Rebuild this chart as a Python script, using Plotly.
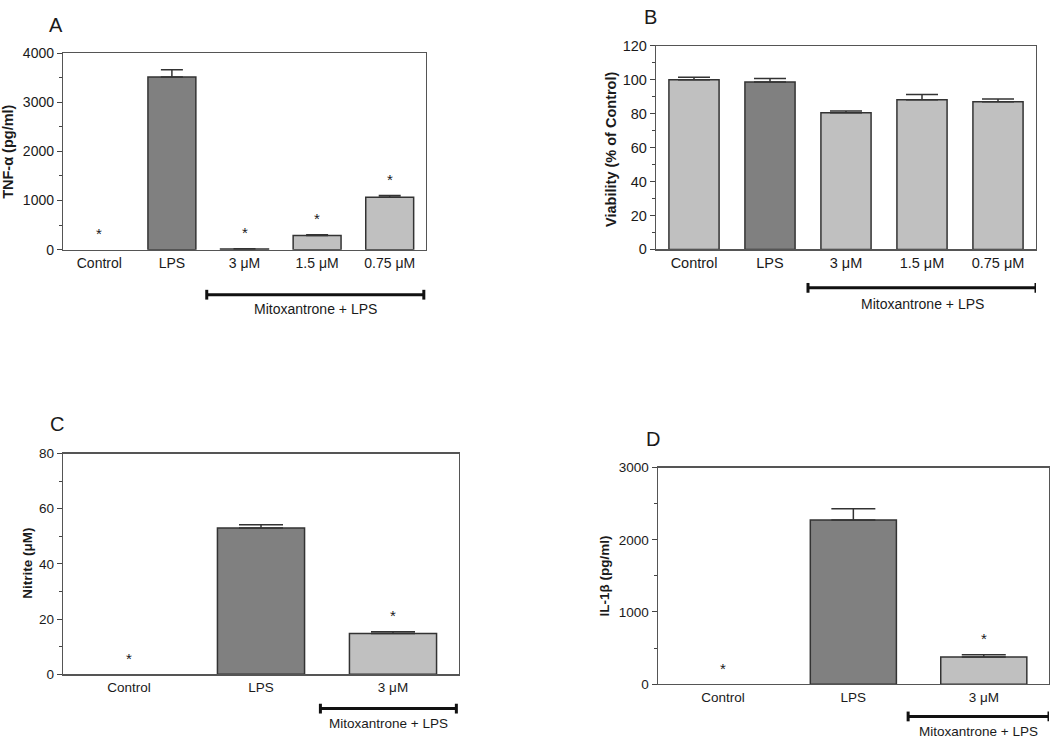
import plotly.graph_objects as go

# ---------------- data ----------------
cats_ab = ["Control", "LPS", "3 \u03bcM", "1.5 \u03bcM", "0.75 \u03bcM"]
tnf_vals = [None, 3510, 15, 290, 1068]
tnf_err = [0, 150, 5, 15, 35]
tnf_sig = [True, False, True, True, True]

viab_vals = [100, 98.7, 80.6, 88.3, 87.0]
viab_err = [1.5, 2.0, 1.0, 3.1, 1.7]
viab_sig = [False, False, False, False, False]

cats_cd = ["Control", "LPS", "3 \u03bcM"]
nit_vals = [None, 53.0, 14.8]
nit_err = [0, 1.2, 0.6]
nit_sig = [True, False, True]

il_vals = [None, 2273, 375]
il_err = [0, 158, 32]
il_sig = [True, False, True]

FONT = "Arial, Liberation Sans, sans-serif"
DARK = "#808080"
LIGHT = "#c0c0c0"
W, H = 1050, 745


def px_x(p):
    return p / W


def px_y(p):
    return 1 - p / H


panels = [
    dict(key="", cats=cats_ab, vals=tnf_vals, err=tnf_err, sig=tnf_sig,
         dom_x=(63, 426), dom_y=(46, 247), yr=(0, 4000), dt=1000, mdt=500,
         title="TNF-\u03b1 (pg/ml)", tpos=(8, 147), tfs=14.5, fs=14,
         letter="A", lpos=(56, 17), cap=11, brk=(1.48, 4.47), brk_y=293,
         btxt=308, sig_shift=20),
    dict(key="2", cats=cats_ab, vals=viab_vals, err=viab_err, sig=viab_sig,
         dom_x=(656, 1036), dom_y=(38.7, 246.7), yr=(0, 120), dt=20, mdt=10,
         title="Viability (% of Control)", tpos=(611, 145), tfs=14.5, fs=14.5,
         letter="B", lpos=(650, 9), cap=16, brk=(1.5, 4.5), brk_y=286,
         btxt=303, sig_shift=20),
    dict(key="3", cats=cats_cd, vals=nit_vals, err=nit_err, sig=nit_sig,
         dom_x=(63, 459), dom_y=(455.3, 681), yr=(0, 80), dt=20, mdt=10,
         title="Nitrite (\u03bcM)", tpos=(28, 568), tfs=13.5, fs=13.5,
         letter="C", lpos=(57, 425), cap=22, brk=(1.45, 2.48), brk_y=716,
         btxt=731, sig_shift=20),
    dict(key="4", cats=cats_cd, vals=il_vals, err=il_err, sig=il_sig,
         dom_x=(657.7, 1049), dom_y=(469.7, 691), yr=(0, 3000), dt=1000, mdt=500,
         title="IL-1\u03b2 (pg/ml)", tpos=(605, 581), tfs=13.5, fs=13.5,
         letter="D", lpos=(653, 440), cap=22, brk=(1.42, 2.5), brk_y=724,
         btxt=739, sig_shift=20),
]

fig = go.Figure()
annotations = []
shapes = []

for p in panels:
    k = p["key"]
    n = len(p["cats"])
    xs = list(range(n))
    colors = [DARK if c == "LPS" else LIGHT for c in p["cats"]]
    fig.add_trace(go.Bar(
        x=xs, y=p["vals"], width=0.66,
        marker=dict(color=colors, line=dict(color="#333333", width=1.5)),
        error_y=dict(type="data", array=p["err"], arrayminus=[0] * n,
                     symmetric=False, color="#333333", thickness=1.5,
                     width=p["cap"]),
        xaxis="x" + k, yaxis="y" + k, showlegend=False, hoverinfo="skip",
    ))
    ax = dict(
        domain=[px_x(p["dom_x"][0]), px_x(p["dom_x"][1])],
        range=[-0.5, n - 0.5], anchor="y" + k,
        tickmode="array", tickvals=xs, ticktext=p["cats"],
        showline=True, mirror=True, linecolor="#555555", linewidth=1.2,
        ticks="", showgrid=False, zeroline=False,
        tickfont=dict(family=FONT, size=p["fs"], color="#1a1a1a"),
        fixedrange=True,
    )
    ay = dict(
        domain=[px_y(p["dom_y"][1]), px_y(p["dom_y"][0])],
        range=list(p["yr"]), anchor="x" + k, dtick=p["dt"],
        showline=True, mirror=True, linecolor="#555555", linewidth=1.2,
        ticks="outside", ticklen=5, tickcolor="#444444", tickwidth=1,
        minor=dict(ticks="outside", ticklen=3, dtick=p["mdt"], tickcolor="#444444"),
        showgrid=False, zeroline=False,
        tickfont=dict(family=FONT, size=p["fs"], color="#1a1a1a"),
        fixedrange=True,
    )
    fig.layout["xaxis" + k] = ax
    fig.layout["yaxis" + k] = ay

    xref = "x" + k
    yref = "y" + k
    # significance stars
    for i, s in enumerate(p["sig"]):
        if s:
            top = (p["vals"][i] or 0) + p["err"][i]
            annotations.append(dict(
                x=i, y=top, xref=xref, yref=yref,
                text="*", showarrow=False, yanchor="middle",
                yshift=p["sig_shift"] - 4,
                font=dict(family=FONT, size=15, color="#1a1a1a")))
    # y title
    annotations.append(dict(
        x=px_x(p["tpos"][0]), y=px_y(p["tpos"][1]), xref="paper", yref="paper",
        text="<b>" + p["title"] + "</b>", textangle=-90, showarrow=False,
        xanchor="center", yanchor="middle",
        font=dict(family=FONT, size=p["tfs"], color="#1a1a1a")))
    # panel letter
    annotations.append(dict(
        x=px_x(p["lpos"][0]), y=px_y(p["lpos"][1]), xref="paper", yref="paper",
        text=p["letter"], showarrow=False, xanchor="center", yanchor="middle",
        font=dict(family=FONT, size=20, color="#1a1a1a")))
    # bracket
    b0, b1 = p["brk"]
    by = px_y(p["brk_y"])
    shapes.append(dict(type="line", xref=xref, yref="paper", x0=b0, x1=b1,
                       y0=by, y1=by, line=dict(color="#111111", width=3)))
    for bx in (b0, b1):
        shapes.append(dict(type="line", xref=xref, yref="paper", x0=bx, x1=bx,
                           y0=by - 5 / H, y1=by + 5 / H,
                           line=dict(color="#111111", width=3)))
    annotations.append(dict(
        x=(b0 + b1) / 2, y=px_y(p["btxt"]), xref=xref, yref="paper",
        text="Mitoxantrone + LPS", showarrow=False, xanchor="center",
        yanchor="middle",
        font=dict(family=FONT, size=14 if k in ("", "2") else 13.5,
                  color="#1a1a1a")))

fig.update_layout(
    width=W, height=H,
    margin=dict(l=0, r=0, t=0, b=0),
    paper_bgcolor="white", plot_bgcolor="white",
    annotations=annotations, shapes=shapes,
    bargap=0.34, showlegend=False,
)

css_js = (
    "var s=document.createElement('style');"
    "s.innerHTML='html,body{margin:0;padding:0;overflow:hidden;width:1050px;height:745px;}';"
    "document.head.appendChild(s);"
)

fig.write_html(
    "out.html",
    config={"displayModeBar": False, "staticPlot": True},
    post_script=css_js,
)
